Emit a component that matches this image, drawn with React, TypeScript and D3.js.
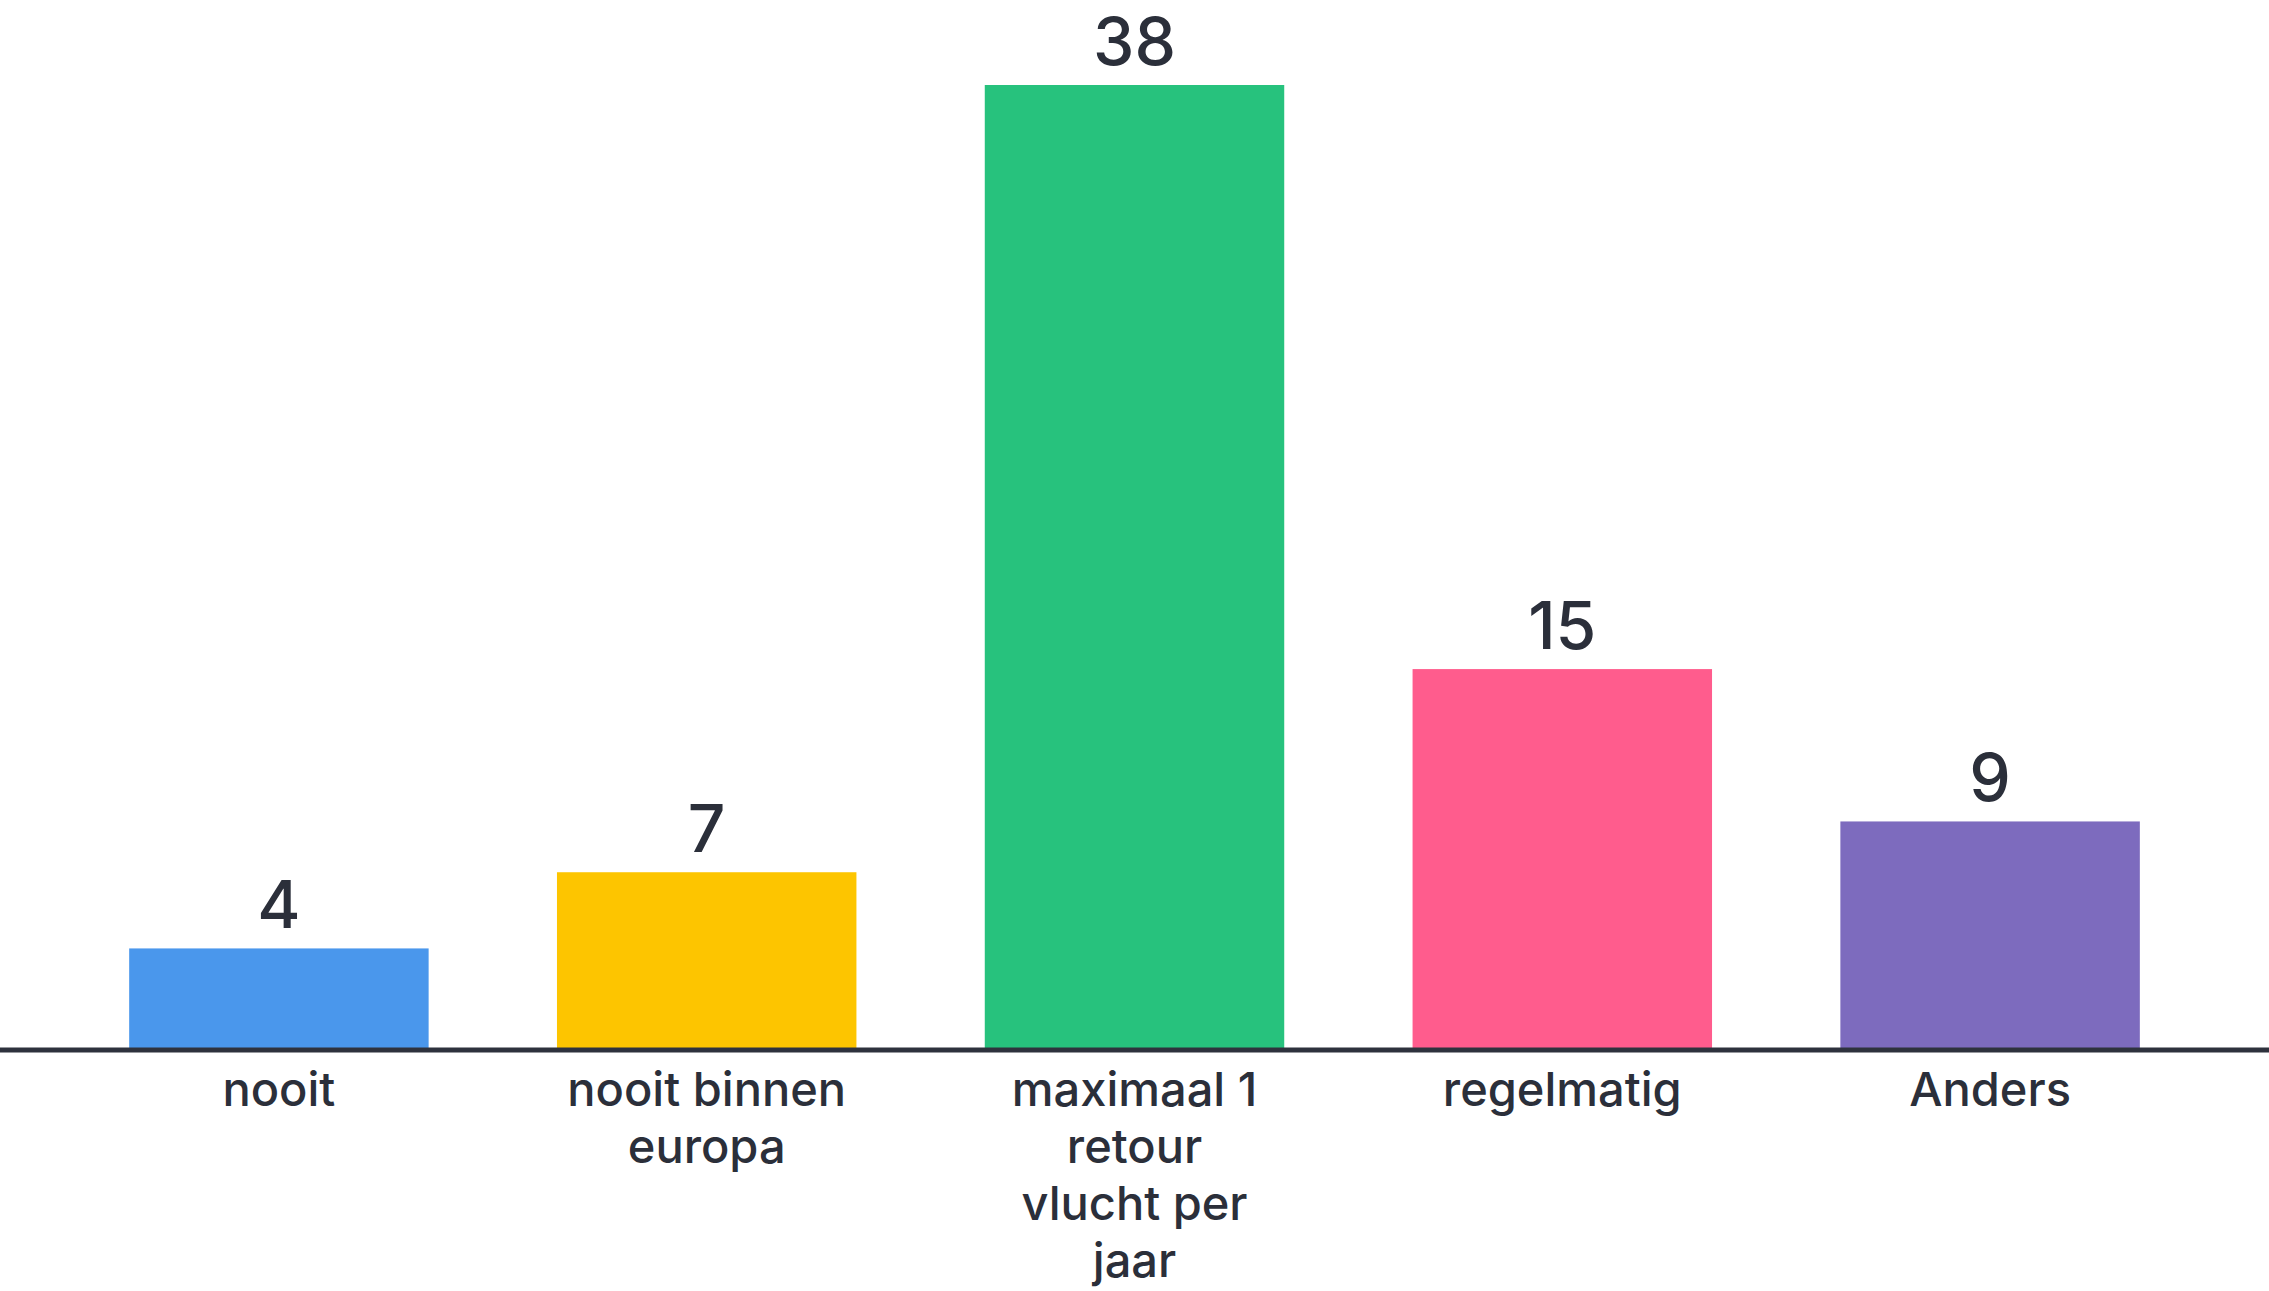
import React, { useEffect, useRef } from 'react';
import * as d3 from 'd3';

const svgWidth = 2269;
const svgHeight = 1291;

const categories = ['nooit', 'nooit binnen\neuropa', 'maximaal 1\nretour\nvlucht per\njaar', 'regelmatig', 'Anders'];
const values = [4, 7, 38, 15, 9];
const colors = ['#4a97ec', '#fdc500', '#27c27d', '#ff5c8d', '#7d6bbe'];

const textColor = '#2b2f3a';
const fontFamily = 'Inter, "Noto Sans", sans-serif';

const App = () => {
  const chartRef = useRef<SVGSVGElement | null>(null);

  useEffect(() => {
    document.body.style.margin = '0';
    if (!chartRef.current) return;
    const svg = d3.select(chartRef.current);
    svg.selectAll('*').remove();

    const data = categories.map((c, i) => ({ x: c, y: values[i], color: colors[i] }));

    const xScale = d3
      .scaleBand()
      .domain(categories)
      .range([65, 2204])
      .paddingInner(0.3)
      .paddingOuter(0.15);

    const yScale = d3.scaleLinear().domain([0, 38]).range([1050, 85]);

    svg
      .selectAll('.bar')
      .data(data)
      .enter()
      .append('rect')
      .attr('class', 'bar')
      .attr('x', d => xScale(d.x) as number)
      .attr('y', d => yScale(d.y))
      .attr('width', xScale.bandwidth())
      .attr('height', d => yScale(0) - yScale(d.y))
      .style('fill', d => d.color);

    // value labels above bars
    svg
      .selectAll('.bar-label')
      .data(data)
      .enter()
      .append('text')
      .attr('class', 'bar-label')
      .attr('x', d => (xScale(d.x) as number) + xScale.bandwidth() / 2)
      .attr('y', d => yScale(d.y) - 20)
      .attr('text-anchor', 'middle')
      .attr('font-family', fontFamily)
      .attr('font-size', 66)
      .attr('font-weight', 500)
      .attr('fill', textColor)
      .text(d => d.y);

    // baseline
    svg
      .append('line')
      .attr('x1', 0)
      .attr('x2', svgWidth)
      .attr('y1', yScale(0))
      .attr('y2', yScale(0))
      .attr('stroke', '#2e323d')
      .attr('stroke-width', 5);

    // category labels, multi-line
    const labels = svg
      .selectAll('.cat-label')
      .data(data)
      .enter()
      .append('text')
      .attr('class', 'cat-label')
      .attr('text-anchor', 'middle')
      .attr('font-family', fontFamily)
      .attr('font-size', 47)
      .attr('font-weight', 500)
      .attr('fill', textColor);

    labels.each(function (d) {
      const t = d3.select(this);
      const cx = (xScale(d.x) as number) + xScale.bandwidth() / 2;
      d.x.split('\n').forEach((line, i) => {
        t.append('tspan')
          .attr('x', cx)
          .attr('y', yScale(0) + 56 + i * 57)
          .text(line);
      });
    });
  }, []);

  return <svg ref={chartRef} width={svgWidth} height={svgHeight} style={{ display: 'block', background: '#fff' }} />;
};

export default App;
